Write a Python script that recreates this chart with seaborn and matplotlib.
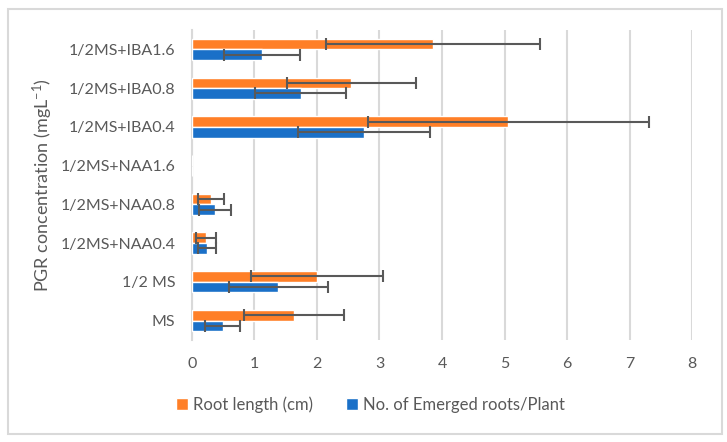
import matplotlib
matplotlib.use("Agg")
import matplotlib.pyplot as plt
import seaborn as sns
import pandas as pd
import numpy as np
from matplotlib.patches import Rectangle

categories = ["1/2MS+IBA1.6", "1/2MS+IBA0.8", "1/2MS+IBA0.4", "1/2MS+NAA1.6",
              "1/2MS+NAA0.8", "1/2MS+NAA0.4", "1/2 MS", "MS"]
series = ["Root length (cm)", "No. of Emerged roots/Plant"]
root_length = [3.85, 2.55, 5.06, 0.0, 0.30, 0.22, 2.00, 1.63]
root_length_err = [1.71, 1.03, 2.25, 0.0, 0.21, 0.16, 1.05, 0.80]
root_count = [1.12, 1.74, 2.75, 0.0, 0.37, 0.245, 1.38, 0.49]
root_count_err = [0.61, 0.73, 1.05, 0.0, 0.25, 0.14, 0.79, 0.28]
x_ticks = [0, 1, 2, 3, 4, 5, 6, 7, 8]

sns.set_theme(style="white")
plt.rcParams["font.family"] = ["Lato", "DejaVu Sans"]
plt.rcParams["mathtext.default"] = "regular"

text_color = "#595959"
grid_color = "#D9D9D9"
colors = {series[0]: "#FF7F27", series[1]: "#1A70C8"}

df = pd.DataFrame({
    "cat": categories * 2,
    "series": [series[0]] * len(categories) + [series[1]] * len(categories),
    "value": root_length + root_count,
    "err": root_length_err + root_count_err,
})

fig = plt.figure(figsize=(7.27, 4.42), dpi=100)
ax = fig.add_axes([0.264, 0.231, 0.688, 0.701])

sns.barplot(data=df, y="cat", x="value", hue="series", order=categories,
            hue_order=series, palette=colors, orient="h", width=0.55,
            errorbar=None, ax=ax, legend=True, zorder=3, saturation=1)

# error bars positioned from the drawn patches
for container, s in zip(ax.containers, series):
    sub = df[df["series"] == s].set_index("cat").loc[categories]
    ys, xs, es = [], [], []
    for patch, (v, e) in zip(container.patches, zip(sub["value"], sub["err"])):
        if v == 0 and e == 0:
            continue
        ys.append(patch.get_y() + patch.get_height() / 2)
        xs.append(v)
        es.append(e)
    ax.errorbar(xs, ys, xerr=es, fmt="none", ecolor="#595959", elinewidth=1.5,
                capsize=4, capthick=1.5, zorder=4)

ax.set_xlim(0, 8)
ax.set_xticks(x_ticks)
ax.set_xticklabels([str(t) for t in x_ticks])
ax.set_ylim(7.5, -0.5)
ax.xaxis.grid(True, color=grid_color, linewidth=1.5, zorder=0)
ax.set_axisbelow(True)
for side in ["top", "right", "bottom"]:
    ax.spines[side].set_visible(False)
ax.spines["left"].set_color(grid_color)
ax.spines["left"].set_linewidth(1.5)
ax.tick_params(axis="both", length=0, labelsize=11.5, colors=text_color)
ax.tick_params(axis="y", pad=12)
ax.tick_params(axis="x", pad=12)
ax.set_xlabel("")
ax.set_ylabel("PGR concentration (mgL$^{-1}$)", fontsize=13, color=text_color, labelpad=4)

handles, labels = ax.get_legend_handles_labels()
ax.get_legend().remove()
fig.legend(handles, labels, loc="center", bbox_to_anchor=(0.51, 0.084), ncol=2,
           frameon=False, fontsize=12, handlelength=0.7, handleheight=0.7,
           handletextpad=0.3, columnspacing=2.0, labelcolor=text_color)

fig.patches.append(Rectangle((0.011, 0.018), 0.982, 0.962, transform=fig.transFigure,
                             fill=False, edgecolor=grid_color, linewidth=1.5))

fig.savefig("out.png", dpi=100)
